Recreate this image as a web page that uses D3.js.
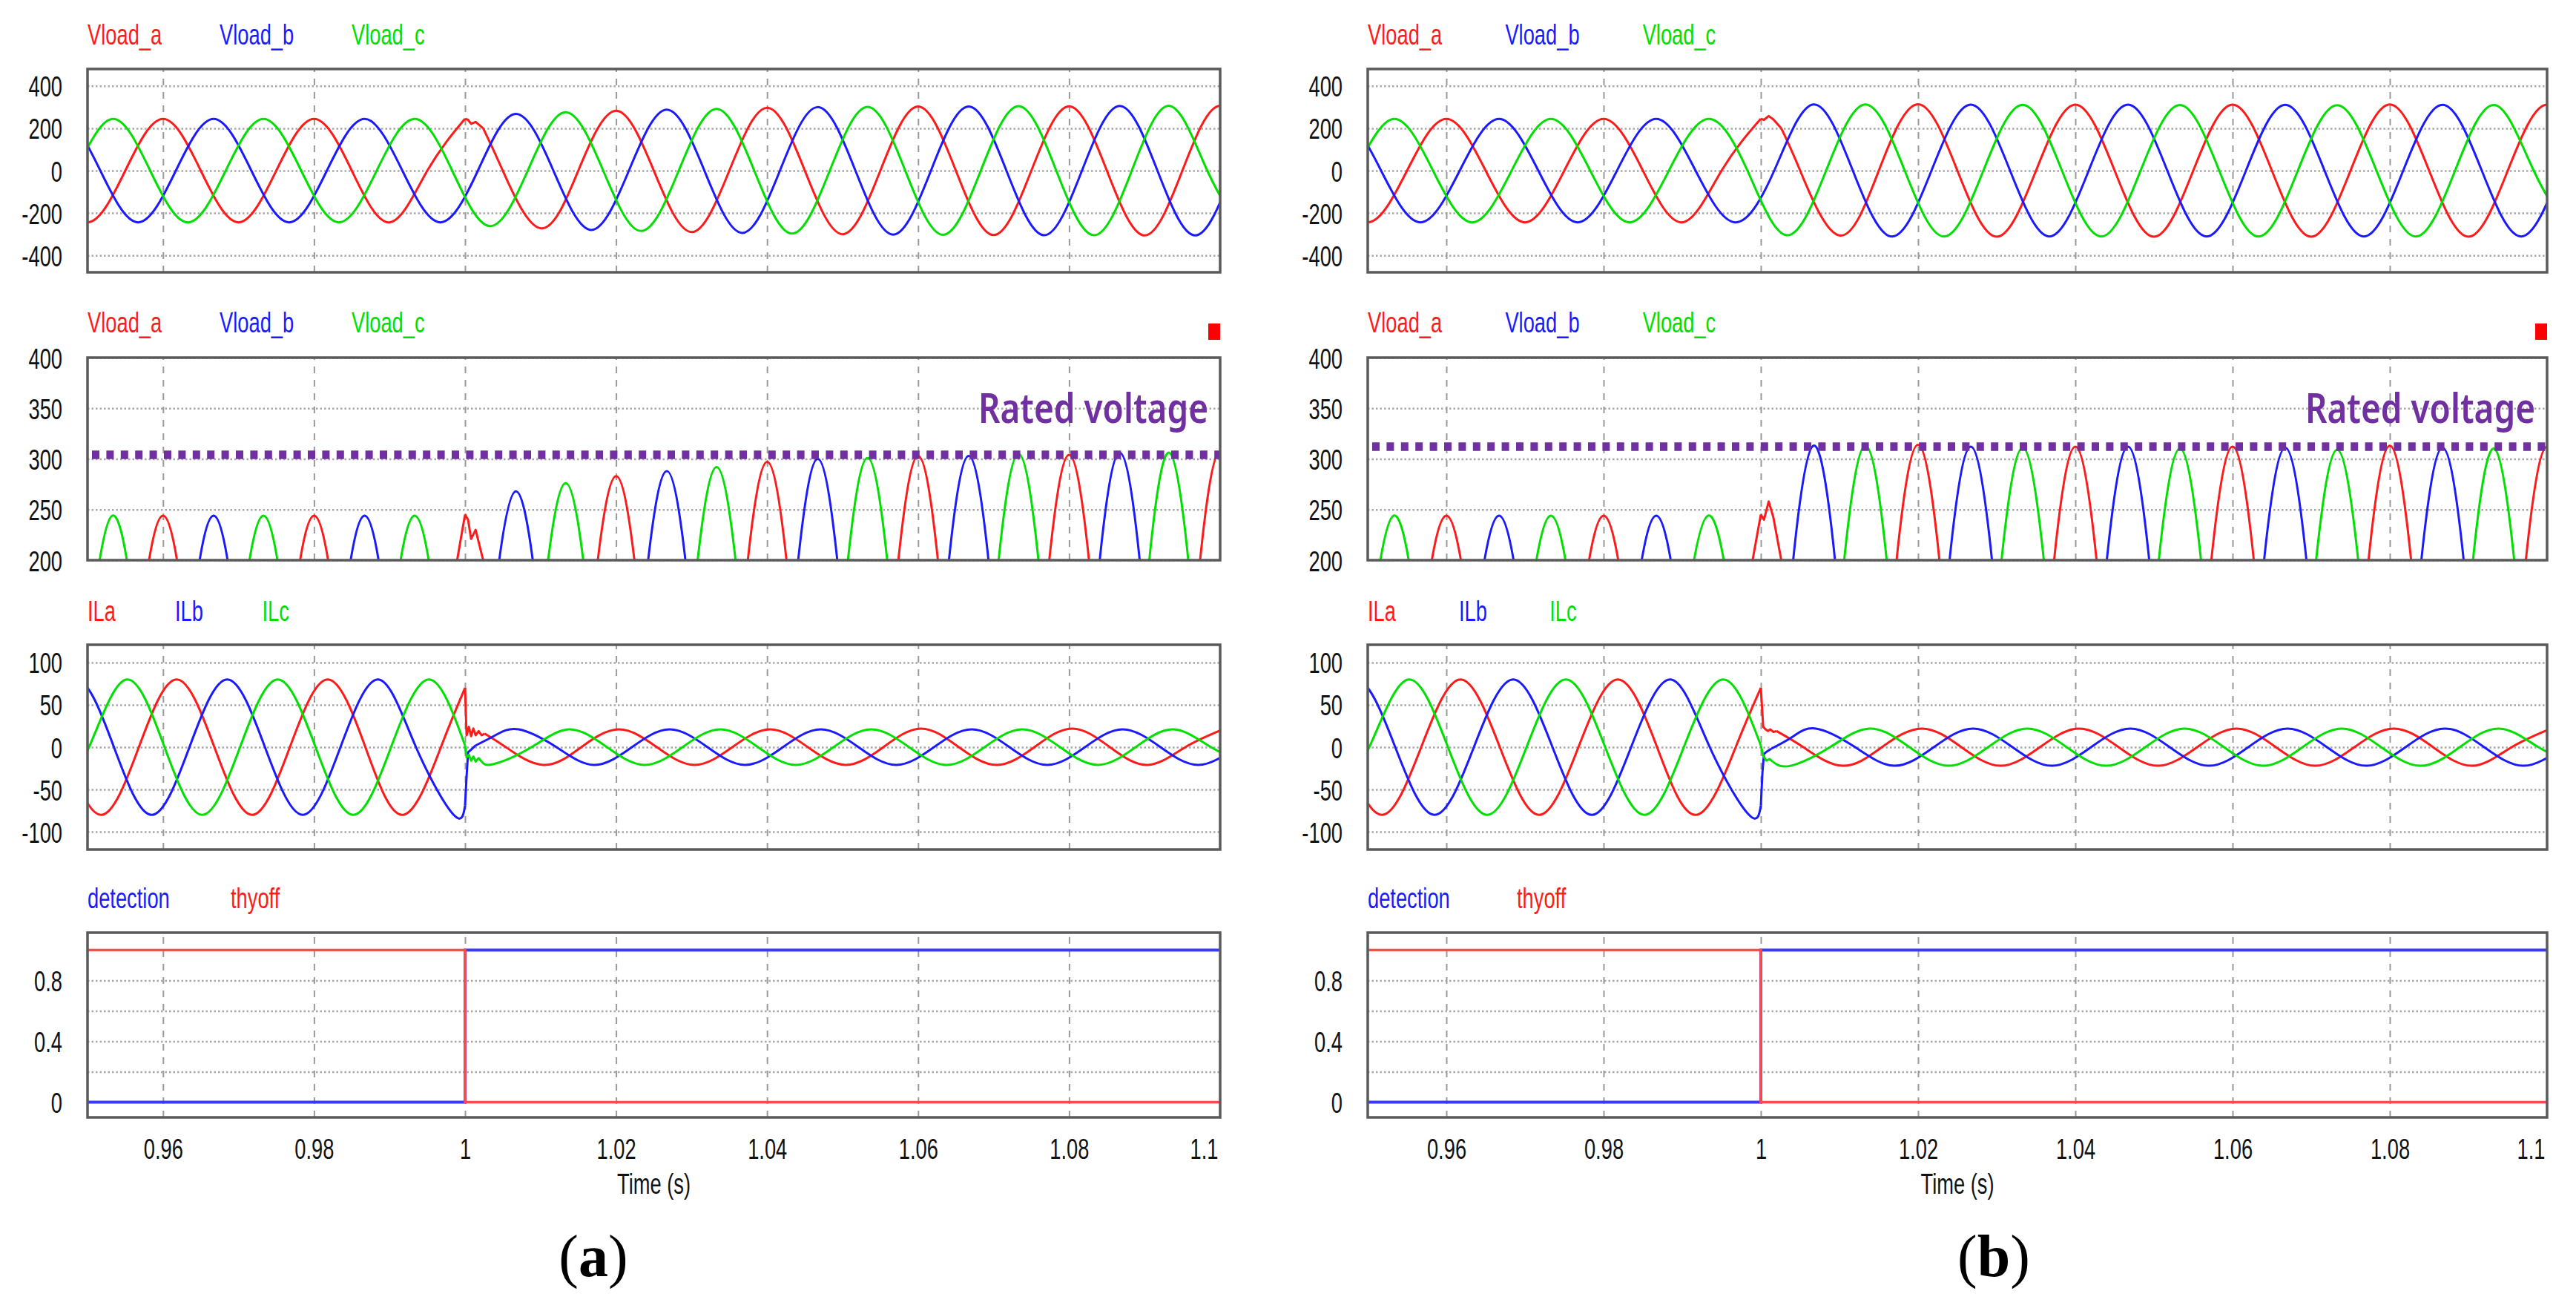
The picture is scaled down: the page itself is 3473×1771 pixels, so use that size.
<!DOCTYPE html>
<html>
<head>
<meta charset="utf-8">
<script src="https://cdnjs.cloudflare.com/ajax/libs/d3/7.8.5/d3.min.js"></script>
<style>
  body { margin: 0; background: #fff; }
  svg { display: block; }
</style>
</head>
<body>
<div id="chart"></div>
<script>
// ---- values ----
const timeTicks = [0.96, 0.98, 1, 1.02, 1.04, 1.06, 1.08, 1.1];
const vTicks = [-400, -200, 0, 200, 400];
const vPeakTicks = [200, 250, 300, 350, 400];
const iTicks = [-100, -50, 0, 50, 100];
const flagTicks = [0, 0.4, 0.8];
const flagGrid = [0.2, 0.4, 0.6, 0.8];

const vNames = ["Vload_a", "Vload_b", "Vload_c"];
const iNames = ["ILa", "ILb", "ILc"];
const flagNames = ["detection", "thyoff"];
const caseNames = ["a", "b"];
const ratedVoltage = [304, 312];

// load voltages up to the event at t = 1 s (same in both cases)
const vaPre = [[0.945,0],[0.95,-244],[0.955,0],[0.96,244],[0.965,0],[0.97,-244],[0.975,0],[0.98,244],[0.985,0],[0.99,-244],[0.995,0],[1.0,245]];
const vbPre = [[0.9417,0],[0.9467,244],[0.9517,0],[0.9567,-244],[0.9617,0],[0.9667,244],[0.9717,0],[0.9767,-244],[0.9817,0],[0.9867,244],[0.9917,0],[0.9967,-244]];
const vcPre = [[0.9433,-244],[0.9483,0],[0.9533,244],[0.9583,0],[0.9633,-244],[0.9683,0],[0.9733,244],[0.9783,0],[0.9833,-244],[0.9883,0],[0.9933,244],[0.9983,0]];

// case (a): slow rise towards rated voltage
const vaJumpA = [[1.0,245],[1.0004,240],[1.0008,221],[1.0014,230],[1.0024,200]];
const vaPostA = [[1.0024,200],[1.005,0],[1.01,-272],[1.015,0],[1.02,283],[1.025,0],[1.03,-290],[1.035,0],[1.04,297],[1.045,0],[1.05,-300],[1.055,0],[1.06,303],[1.065,0],[1.07,-304],[1.075,0],[1.08,304],[1.085,0],[1.09,-306],[1.095,0],[1.1,307],[1.105,0]];
const vbPostA = [[1.0017,0],[1.0067,268],[1.0117,0],[1.0167,-280],[1.0217,0],[1.0267,288],[1.0317,0],[1.0367,-294],[1.0417,0],[1.0467,300],[1.0517,0],[1.0567,-302],[1.0617,0],[1.0667,303],[1.0717,0],[1.0767,-305],[1.0817,0],[1.0867,306],[1.0917,0],[1.0967,-306],[1.1017,0]];
const vcPostA = [[1.0033,-262],[1.0083,0],[1.0133,276],[1.0183,0],[1.0233,-285],[1.0283,0],[1.0333,292],[1.0383,0],[1.0433,-297],[1.0483,0],[1.0533,301],[1.0583,0],[1.0633,-303],[1.0683,0],[1.0733,305],[1.0783,0],[1.0833,-305],[1.0883,0],[1.0933,306],[1.0983,0],[1.1033,-306]];

// case (b): fast jump to rated voltage
const vaJumpB = [[1.0,245],[1.0004,240],[1.001,258],[1.0016,242],[1.0026,200]];
const vaPostB = [[1.0026,200],[1.005,0],[1.01,-306],[1.015,0],[1.02,314],[1.025,0],[1.03,-312],[1.035,0],[1.04,312],[1.045,0],[1.05,-312],[1.055,0],[1.06,312],[1.065,0],[1.07,-312],[1.075,0],[1.08,313],[1.085,0],[1.09,-312],[1.095,0],[1.1,312],[1.105,0]];
const vbPostB = [[1.0017,0],[1.0067,313],[1.0117,0],[1.0167,-311],[1.0217,0],[1.0267,312],[1.0317,0],[1.0367,-311],[1.0417,0],[1.0467,312],[1.0517,0],[1.0567,-311],[1.0617,0],[1.0667,311],[1.0717,0],[1.0767,-311],[1.0817,0],[1.0867,311],[1.0917,0],[1.0967,-311],[1.1017,0]];
const vcPostB = [[1.0033,-305],[1.0083,0],[1.0133,313],[1.0183,0],[1.0233,-311],[1.0283,0],[1.0333,311],[1.0383,0],[1.0433,-311],[1.0483,0],[1.0533,310],[1.0583,0],[1.0633,-311],[1.0683,0],[1.0733,309],[1.0783,0],[1.0833,-311],[1.0883,0],[1.0933,310],[1.0983,0],[1.1033,-311]];

// load currents up to the event (same in both cases)
const iaPre = [[0.9468,0],[0.9518,-80],[0.9568,0],[0.9618,80],[0.9668,0],[0.9718,-80],[0.9768,0],[0.9818,80],[0.9868,0],[0.9918,-80],[0.9968,0],[1.0,70]];
const ibPre = [[0.9435,0],[0.9485,80],[0.9535,0],[0.9585,-80],[0.9635,0],[0.9685,80],[0.9735,0],[0.9785,-80],[0.9835,0],[0.9885,80],[0.9935,0],[0.9985,-80],[1.0,-69]];
const icPre = [[0.9452,-80],[0.9502,0],[0.9552,80],[0.9602,0],[0.9652,-80],[0.9702,0],[0.9752,80],[0.9802,0],[0.9852,-80],[0.9902,0],[0.9952,80],[1.0,2]];

// case (a) currents after the event
const iaJumpA = [[1.0,70],[1.0002,14],[1.0005,24],[1.0008,13],[1.0011,22],[1.0014,14],[1.0018,19],[1.0022,14],[1.0026,16]];
const iaPostA = [[1.0026,16],[1.0054,0],[1.0104,-21],[1.0154,0],[1.0204,21],[1.0254,0],[1.0304,-21],[1.0354,0],[1.0404,21],[1.0454,0],[1.0504,-21],[1.0554,0],[1.0604,22],[1.0654,0],[1.0704,-21],[1.0754,0],[1.0804,22],[1.0854,0],[1.0904,-21],[1.0954,0],[1.1004,21]];
const ibJumpA = [[1.0,-69],[1.0002,-35],[1.0004,-6],[1.0008,-3],[1.0014,2]];
const ibPostA = [[1.0014,2],[1.004,14],[1.0071,21],[1.0121,0],[1.0171,-21],[1.0221,0],[1.0271,21],[1.0321,0],[1.0371,-21],[1.0421,0],[1.0471,21],[1.0521,0],[1.0571,-21],[1.0621,0],[1.0671,21],[1.0721,0],[1.0771,-21],[1.0821,0],[1.0871,21],[1.0921,0],[1.0971,-21],[1.1021,0]];
const icJumpA = [[1.0,2],[1.0002,-12],[1.0005,-9],[1.0008,-16],[1.0011,-11],[1.0014,-17],[1.0018,-13],[1.0022,-17]];
const icPostA = [[1.0022,-17],[1.0038,-20],[1.0088,0],[1.0138,21],[1.0188,0],[1.0238,-21],[1.0288,0],[1.0338,21],[1.0388,0],[1.0438,-21],[1.0488,0],[1.0538,21],[1.0588,0],[1.0638,-21],[1.0688,0],[1.0738,21],[1.0788,0],[1.0838,-21],[1.0888,0],[1.0938,21],[1.0988,0],[1.1038,-21]];

// case (b) currents after the event
const iaJumpB = [[1.0,70],[1.0003,24],[1.0006,21],[1.0009,19],[1.0012,21],[1.0016,18],[1.002,19]];
const iaPostB = [[1.002,19],[1.0054,0],[1.0104,-22],[1.0154,0],[1.0205,22],[1.0255,0],[1.0305,-22],[1.0355,0],[1.0405,22],[1.0455,0],[1.0505,-22],[1.0555,0],[1.0605,22],[1.0655,0],[1.0705,-22],[1.0755,0],[1.0805,22],[1.0855,0],[1.0905,-22],[1.0955,0],[1.1005,22]];
const ibJumpB = [[1.0,-69],[1.0002,-30],[1.0004,-8],[1.0008,-5],[1.0013,-2]];
const ibPostB = [[1.0013,-2],[1.004,12],[1.007,22],[1.012,0],[1.017,-22],[1.022,0],[1.027,22],[1.032,0],[1.037,-22],[1.042,0],[1.047,22],[1.052,0],[1.057,-22],[1.062,0],[1.067,22],[1.072,0],[1.077,-22],[1.082,0],[1.087,22],[1.092,0],[1.097,-22],[1.102,0]];
const icJumpB = [[1.0,2],[1.0003,-10],[1.0007,-16],[1.0011,-14],[1.0015,-17]];
const icPostB = [[1.0015,-17],[1.0038,-22],[1.0088,0],[1.0139,22],[1.0189,0],[1.0239,-22],[1.0289,0],[1.0339,22],[1.0389,0],[1.0439,-22],[1.0489,0],[1.0539,22],[1.0589,0],[1.0639,-22],[1.0689,0],[1.0739,22],[1.0789,0],[1.0839,-22],[1.0889,0],[1.0939,22],[1.0989,0],[1.1039,-22]];

// detection / thyristor-off flags (same in both cases)
const detection = [[0.95,0],[1.0,1],[1.1,1]];
const thyoff = [[0.95,1],[1.0,0],[1.1,0]];

// ---- layout ----
const W = 3473, H = 1771;
const FONT = "'Liberation Sans', Arial, sans-serif";
const RED = "#ff1a1a", BLUE = "#1a1aff", GREEN = "#00e000", PURPLE = "#7030a0";
const phaseColors = [RED, BLUE, GREEN];

const rows = [
    {top: 93, bottom: 367, domain: [-480, 480], ticks: vTicks, grid: vTicks, legendY: 60},
    {top: 482, bottom: 755, domain: [200, 400], ticks: vPeakTicks, grid: vPeakTicks, legendY: 448},
    {top: 869, bottom: 1145, domain: [-121, 121], ticks: iTicks, grid: iTicks, legendY: 837},
    {top: 1257, bottom: 1506, domain: [-0.1, 1.115], ticks: flagTicks, grid: flagGrid, legendY: 1224}
];

const seg = (pts, smooth) => ({pts, smooth});
const panels = [
    {name: caseNames[0], left: 118, right: 1645, labelX: 800, rated: ratedVoltage[0],
     v: [[seg(vaPre, true), seg(vaJumpA, false), seg(vaPostA, true)],
         [seg(vbPre.concat(vbPostA), true)],
         [seg(vcPre.concat(vcPostA), true)]],
     i: [[seg(iaPre, true), seg(iaJumpA, false), seg(iaPostA, true)],
         [seg(ibPre, true), seg(ibJumpA, false), seg(ibPostA, true)],
         [seg(icPre, true), seg(icJumpA, false), seg(icPostA, true)]]},
    {name: caseNames[1], left: 1844, right: 3434, labelX: 2688, rated: ratedVoltage[1],
     v: [[seg(vaPre, true), seg(vaJumpB, false), seg(vaPostB, true)],
         [seg(vbPre.concat(vbPostB), true)],
         [seg(vcPre.concat(vcPostB), true)]],
     i: [[seg(iaPre, true), seg(iaJumpB, false), seg(iaPostB, true)],
         [seg(ibPre, true), seg(ibJumpB, false), seg(ibPostB, true)],
         [seg(icPre, true), seg(icJumpB, false), seg(icPostB, true)]]}
];

const svg = d3.select("#chart").append("svg")
    .attr("width", W).attr("height", H)
    .attr("viewBox", `0 0 ${W} ${H}`);
svg.append("rect").attr("width", W).attr("height", H).attr("fill", "#fff");

// narrow text like the PSIM screenshot
const label = (g, x, y, s, o = {}) => g.append("text")
    .attr("transform", `translate(${x},${y}) scale(${o.sx || 0.7},1)`)
    .attr("font-family", o.family || FONT)
    .attr("font-size", o.size || 39)
    .attr("font-weight", o.weight || "normal")
    .attr("fill", o.color || "#111")
    .attr("text-anchor", o.anchor || "start")
    .text(s);

let clipId = 0;

const drawPlot = (P, row, draw) => {
    const x = d3.scaleLinear().domain([0.95, 1.1]).range([P.left, P.right]);
    const y = d3.scaleLinear().domain(row.domain).range([row.bottom, row.top]);
    const w = P.right - P.left, h = row.bottom - row.top;
    const g = svg.append("g");

    // horizontal dotted grid
    const gy = g.append("g").attr("transform", `translate(${P.left},0)`)
        .call(d3.axisLeft(y).tickValues(row.grid).tickSize(-w).tickFormat(""));
    gy.select(".domain").remove();
    gy.selectAll("line").attr("stroke", "#a8a8a8").attr("stroke-width", 2.5).attr("stroke-dasharray", "2.5,3");

    // vertical dashed grid
    const gx = g.append("g").attr("transform", `translate(0,${row.bottom})`)
        .call(d3.axisBottom(x).tickValues(timeTicks.filter(t => t < 1.1)).tickSize(-h).tickFormat(""));
    gx.select(".domain").remove();
    gx.selectAll("line").attr("stroke", "#9a9a9a").attr("stroke-width", 2).attr("stroke-dasharray", "9,9");

    // plot contents, clipped to the frame
    const id = "clip" + (clipId++);
    g.append("clipPath").attr("id", id).append("rect")
        .attr("x", P.left).attr("y", row.top).attr("width", w).attr("height", h);
    const body = g.append("g").attr("clip-path", `url(#${id})`);
    draw(body, x, y);

    // frame
    g.append("rect").attr("x", P.left).attr("y", row.top).attr("width", w).attr("height", h)
        .attr("fill", "none").attr("stroke", "#5a5a5a").attr("stroke-width", 3.5);

    // y tick labels
    const ya = g.append("g").attr("transform", `translate(${P.left},0)`)
        .call(d3.axisLeft(y).tickValues(row.ticks).tickSize(0).tickFormat(d => String(d)));
    ya.select(".domain").remove();
    ya.attr("font-size", null).attr("font-family", null);
    ya.selectAll("text").attr("x", null).attr("dy", null)
        .attr("transform", "translate(-34,14) scale(0.7,1)")
        .attr("font-family", FONT).attr("font-size", 39).attr("fill", "#111")
        .attr("text-anchor", "end");
    return {g, x, y};
};

const drawSeries = (body, x, y, series, color, width) => {
    series.forEach(s => {
        body.append("path").datum(s.pts)
            .attr("fill", "none").attr("stroke", color).attr("stroke-width", width)
            .attr("stroke-linejoin", "round")
            .attr("d", d3.line().x(d => x(d[0])).y(d => y(d[1]))
                .curve(s.smooth ? d3.curveNatural : d3.curveLinear));
    });
};

panels.forEach(P => {
    const w = P.right - P.left;

    // 1: three-phase load voltage
    drawPlot(P, rows[0], (body, x, y) => {
        P.v.forEach((s, k) => drawSeries(body, x, y, s, phaseColors[k], 3));
    });
    vNames.forEach((n, k) => label(svg, P.left + w * [0, 0.1166, 0.2331][k], rows[0].legendY, n, {color: phaseColors[k]}));

    // 2: voltage peaks against the rated voltage
    drawPlot(P, rows[1], (body, x, y) => {
        P.v.forEach((s, k) => drawSeries(body, x, y, s, phaseColors[k], 3));
        body.append("path").datum([[0.95, P.rated], [1.1, P.rated]])
            .attr("fill", "none").attr("stroke", PURPLE).attr("stroke-width", 11.5)
            .attr("stroke-dasharray", "10,9.4").attr("stroke-dashoffset", -6)
            .attr("d", d3.line().x(d => x(d[0])).y(d => y(d[1])));
        label(body, P.right - 16, 570, "Rated voltage",
            {family: "'Noto Sans', sans-serif", size: 56, weight: 600, color: PURPLE, anchor: "end", sx: 0.82});
    });
    vNames.forEach((n, k) => label(svg, P.left + w * [0, 0.1166, 0.2331][k], rows[1].legendY, n, {color: phaseColors[k]}));
    svg.append("rect").attr("x", P.right - 16).attr("y", 436).attr("width", 16).attr("height", 22).attr("fill", "#ff0000");

    // 3: load currents
    drawPlot(P, rows[2], (body, x, y) => {
        P.i.forEach((s, k) => drawSeries(body, x, y, s, phaseColors[k], 3));
    });
    iNames.forEach((n, k) => label(svg, P.left + w * [0, 0.0773, 0.1542][k], rows[2].legendY, n, {color: phaseColors[k]}));

    // 4: detection and thyristor-off flags
    const p4 = drawPlot(P, rows[3], (body, x, y) => {
        const step = d3.line().x(d => x(d[0])).y(d => y(d[1])).curve(d3.curveStepAfter);
        body.append("path").datum(detection).attr("fill", "none").attr("stroke", "#3a3aff").attr("stroke-width", 4).attr("d", step);
        body.append("path").datum(thyoff).attr("fill", "none").attr("stroke", "#ff4a4a").attr("stroke-width", 3.5).attr("d", step);
    });
    flagNames.forEach((n, k) => label(svg, P.left + w * [0, 0.1264][k], rows[3].legendY, n, {color: [BLUE, RED][k]}));

    // time axis
    const xa = svg.append("g").attr("transform", `translate(0,${rows[3].bottom})`)
        .call(d3.axisBottom(p4.x).tickValues(timeTicks).tickSize(0).tickFormat(d => String(d)));
    xa.select(".domain").remove();
    xa.attr("font-size", null).attr("font-family", null);
    xa.selectAll("text").attr("y", null).attr("dy", null)
        .attr("transform", d => d === 1.1 ? "translate(-3,56) scale(0.7,1)" : "translate(0,56) scale(0.7,1)")
        .attr("text-anchor", d => d === 1.1 ? "end" : "middle")
        .attr("font-family", FONT).attr("font-size", 39).attr("fill", "#111");
    label(svg, (P.left + P.right) / 2, 1609, "Time (s)", {anchor: "middle"});

    // case label
    const cap = svg.append("text").attr("x", P.labelX).attr("y", 1720)
        .attr("text-anchor", "middle").attr("font-family", "'Liberation Serif', 'DejaVu Serif', serif")
        .attr("font-size", 80).attr("fill", "#000");
    cap.append("tspan").text("(");
    cap.append("tspan").attr("font-weight", "bold").text(P.name);
    cap.append("tspan").text(")");
});
</script>
</body>
</html>
